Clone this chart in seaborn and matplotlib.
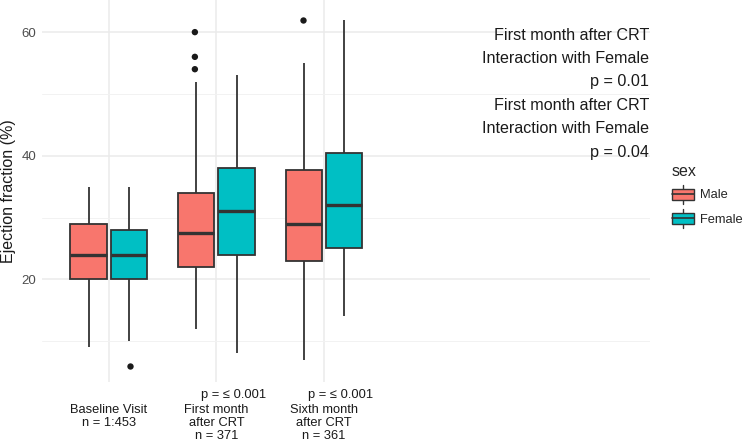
import numpy as np
import pandas as pd
import seaborn as sns
import matplotlib.pyplot as plt
from matplotlib.patches import Rectangle
from matplotlib.lines import Line2D
from matplotlib.legend_handler import HandlerBase

# five-number summaries: low whisker, Q1, median, Q3, high whisker
visits = ["Baseline Visit", "First month after CRT", "Sixth month after CRT"]
tick_labels = ["Baseline Visit\nn = 1:453", "First month\nafter CRT\nn = 371", "Sixth month\nafter CRT\nn = 361"]
p_labels = ["", "p = \u2264 0.001", "p = \u2264 0.001"]
sexes = ["Male", "Female"]
male_box = [[9, 20, 24, 29, 35], [12, 22, 27.5, 34, 52], [7, 23, 29, 37.7, 55]]
female_box = [[10, 20, 24, 28, 35], [8, 24, 31, 38, 53], [14, 25, 32, 40.4, 62]]
male_out = [[], [54, 56, 60], [62]]
female_out = [[6], [], []]
note_lines = ["First month after CRT", "Interaction with Female", "p = 0.01",
              "First month after CRT", "Interaction with Female", "p = 0.04"]
note_y = [59.4, 55.7, 52.0, 48.1, 44.4, 40.5]

palette = {"Male": "#F8766D", "Female": "#00BFC4"}
edge = "#333333"

rows, outs = [], []
for v, mb, fb, mo, fo in zip(visits, male_box, female_box, male_out, female_out):
    rows += [(v, "Male", y) for y in mb] + [(v, "Female", y) for y in fb]
    outs += [(v, "Male", y) for y in mo] + [(v, "Female", y) for y in fo]
df = pd.DataFrame(rows, columns=["visit", "sex", "ef"])
df_out = pd.DataFrame(outs, columns=["visit", "sex", "ef"])

sns.set_style("whitegrid")
plt.rcParams["font.family"] = ["Liberation Sans", "DejaVu Sans"]

fig = plt.figure(figsize=(7.5, 4.43), dpi=100)
ax = fig.add_axes([0.056, 0.138, 0.811, 0.862])

sns.boxplot(data=df, x="visit", y="ef", hue="sex", order=visits, hue_order=sexes,
            palette=palette, saturation=1, whis=(0, 100), showfliers=False, showcaps=False,
            width=0.75, gap=0.1, linecolor=edge, linewidth=1.3, legend=False,
            medianprops={"linewidth": 2.4, "color": edge}, ax=ax)
sns.stripplot(data=df_out, x="visit", y="ef", hue="sex", order=visits, hue_order=sexes,
              palette={"Male": "#1A1A1A", "Female": "#1A1A1A"}, dodge=True, jitter=False,
              size=4.6, legend=False, ax=ax)

ax.set_xlim(0.38 - 1, 6.03 - 1)
ax.set_ylim(3.4, 65.2)
ax.set_yticks([20, 40, 60])
ax.set_yticks([10, 30, 50], minor=True)
ax.grid(True, which="major", color="#EBEBEB", linewidth=1.1)
ax.grid(True, which="minor", axis="y", color="#F2F2F2", linewidth=0.7)
ax.set_axisbelow(True)
for s in ax.spines.values():
    s.set_visible(False)

ax.set_xticks(range(len(visits)))
ax.set_xticklabels(tick_labels, fontsize=9.3, color="#1A1A1A", linespacing=1.12, va="top")
ax.tick_params(axis="x", length=0, pad=16)
ax.tick_params(axis="y", length=0, pad=4, labelsize=9.5, labelcolor="#4D4D4D")
ax.set_xlabel("")
ax.set_ylabel("Ejection fraction (%)", fontsize=11.5, color="#1A1A1A", labelpad=4)

for i, p in enumerate(p_labels):
    if p:
        ax.annotate(p, xy=(i, 0), xycoords=("data", "axes fraction"),
                    xytext=(12, -9.5), textcoords="offset points",
                    ha="center", va="center", fontsize=9.3, color="#1A1A1A")

for txt, y in zip(note_lines, note_y):
    ax.text(5.02, y, txt, ha="right", va="center", fontsize=11.6, color="#1A1A1A")


class BoxKey(HandlerBase):
    def create_artists(self, legend, orig_handle, xdescent, ydescent, width, height, fontsize, trans):
        x0, y0 = -xdescent, -ydescent
        cx = x0 + width / 2
        box = Rectangle((x0, y0 + height * 0.22), width, height * 0.56,
                        facecolor=orig_handle.get_facecolor(), edgecolor=edge, lw=1, transform=trans)
        med = Line2D([x0, x0 + width], [y0 + height / 2] * 2, color=edge, lw=1.2, transform=trans)
        w1 = Line2D([cx, cx], [y0, y0 + height * 0.22], color=edge, lw=1, transform=trans)
        w2 = Line2D([cx, cx], [y0 + height * 0.78, y0 + height], color=edge, lw=1, transform=trans)
        return [w1, w2, box, med]


handles = [Rectangle((0, 0), 1, 1, facecolor=palette[s]) for s in sexes]
leg = fig.legend(handles, sexes, title="sex", loc="upper left", bbox_to_anchor=(0.88, 0.655),
                 frameon=False, fontsize=9.3, title_fontsize=11.5, alignment="left",
                 handler_map={Rectangle: BoxKey()}, handlelength=1.7, handleheight=1.9,
                 labelspacing=0.4, handletextpad=0.5)

fig.savefig("out.png", dpi=100)
